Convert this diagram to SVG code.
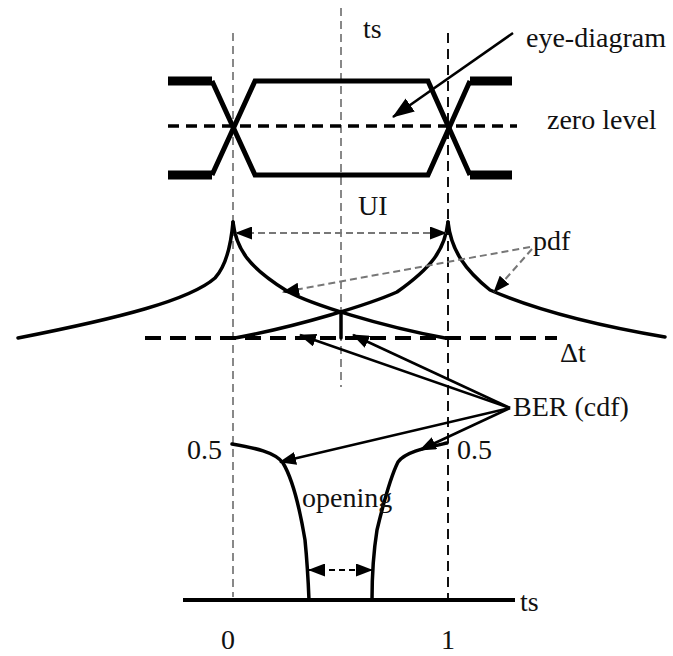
<svg xmlns="http://www.w3.org/2000/svg" width="673" height="656" viewBox="0 0 673 656">
<style>
text{font-family:"Liberation Serif","Times New Roman",serif;font-size:28px;fill:#111}
.guide{fill:none;stroke:#888;stroke-width:2;stroke-dasharray:8 5}
.guideb{fill:none;stroke:#111;stroke-width:2;stroke-dasharray:10 6}
.eye{fill:none;stroke:#000;stroke-width:5;stroke-linejoin:miter}
.stub{stroke:#000;stroke-width:9}
.lvl{fill:none;stroke:#000;stroke-width:3.5;stroke-dasharray:11 7}
.dt{fill:none;stroke:#000;stroke-width:4;stroke-dasharray:16 9}
.curve{fill:none;stroke:#000;stroke-width:3.5;stroke-linejoin:round;stroke-linecap:round}
.ga{fill:none;stroke:#777;stroke-width:2;stroke-dasharray:7 4}
.ba{fill:none;stroke:#000;stroke-width:2.5}
.oa{fill:none;stroke:#000;stroke-width:2;stroke-dasharray:6 4}
</style>
<defs>
<marker id="ah" markerWidth="17" markerHeight="13" refX="16" refY="6.5" orient="auto-start-reverse" markerUnits="userSpaceOnUse"><path d="M0,0 L17,6.5 L0,13 Z" fill="#000"/></marker>
<marker id="ahL" markerWidth="22" markerHeight="16" refX="21" refY="8" orient="auto" markerUnits="userSpaceOnUse"><path d="M0,0 L22,8 L0,16 Z" fill="#000"/></marker>
</defs>

<g id="guides">
<line class="guide" x1="233" y1="33" x2="233" y2="597"/>
<line class="guide" x1="341" y1="8" x2="341" y2="387"/>
<line class="guideb" x1="448" y1="33" x2="448" y2="600"/>
</g>

<g id="eye-diagram-shape">
<line class="stub" x1="168" y1="81" x2="212" y2="81"/>
<line class="stub" x1="168" y1="175" x2="212" y2="175"/>
<line class="stub" x1="470" y1="81" x2="512" y2="81"/>
<line class="stub" x1="470" y1="175" x2="512" y2="175"/>
<path class="eye" d="M212,81 L255,175 L428,175 L470,81"/>
<path class="eye" d="M212,175 L255,81 L428,81 L470,175"/>
<line class="lvl" x1="168" y1="126" x2="517" y2="126"/>
</g>

<g id="pdf-curves">
<path class="curve" d="M18,338 C120,318 190,300 215,278 C226,266 231,245 233,222"/>
<path class="curve" d="M233,222 C236,250 250,268 287,291 C310,304 380,326 445,338"/>
<path class="curve" d="M448,222 C445,250 431,268 397,292 C370,304 300,326 235,338"/>
<path class="curve" d="M448,222 C451,250 465,270 490,290 C540,312 600,326 665,337"/>
<line class="curve" x1="341" y1="314" x2="341" y2="338"/>
<line class="dt" x1="145" y1="338" x2="557" y2="338"/>
</g>

<g id="cdf-curves">
<path class="curve" d="M232,444 C255,448 275,452 283,463 C292,478 300,510 305,540 C307,560 308,575 309,600"/>
<path class="curve" d="M447,443 C425,448 405,452 398,462 C390,478 383,505 377,530 C373,555 372,575 372,600"/>
<line x1="183" y1="600" x2="515" y2="600" stroke="#000" stroke-width="4"/>
</g>

<g id="labels">
<text x="363" y="38">ts</text>
<text x="526" y="47">eye-diagram</text>
<text x="547" y="129">zero level</text>
<text x="358" y="215">UI</text>
<text x="533" y="250">pdf</text>
<text x="560" y="362">Δt</text>
<text x="513" y="416">BER (cdf)</text>
<text x="187" y="459">0.5</text>
<text x="457" y="459">0.5</text>
<text x="302" y="507">opening</text>
<text x="520" y="611">ts</text>
<text x="228" y="649" text-anchor="middle">0</text>
<text x="448" y="649" text-anchor="middle">1</text>
</g>

<g id="connectors">
<line class="ba" x1="513" y1="33" x2="393" y2="117" marker-end="url(#ahL)"/>
<line class="ga" x1="236" y1="233" x2="446" y2="233" marker-start="url(#ah)" marker-end="url(#ah)"/>
<line class="ga" x1="530" y1="247" x2="283" y2="292" marker-end="url(#ah)"/>
<line class="ga" x1="532" y1="249" x2="494" y2="292" marker-end="url(#ah)"/>
<line class="ba" x1="510" y1="408" x2="300" y2="335" marker-end="url(#ah)"/>
<line class="ba" x1="510" y1="408" x2="353" y2="335" marker-end="url(#ah)"/>
<line class="ba" x1="510" y1="408" x2="280" y2="462" marker-end="url(#ah)"/>
<line class="ba" x1="510" y1="408" x2="420" y2="450" marker-end="url(#ah)"/>
<line class="oa" x1="309" y1="570" x2="372" y2="570" marker-start="url(#ah)" marker-end="url(#ah)"/>
</g>
</svg>
